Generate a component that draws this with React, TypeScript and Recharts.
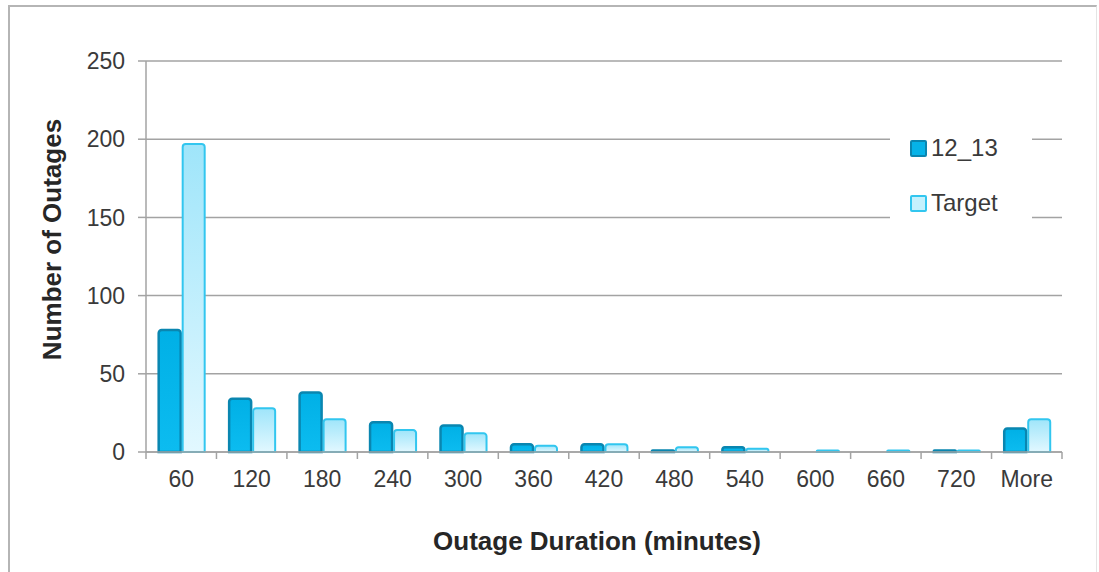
import React from 'react';
import { BarChart, Bar, XAxis, YAxis, CartesianGrid, Legend } from 'recharts';

// Outage duration buckets (minutes)
const categories = ['60', '120', '180', '240', '300', '360', '420', '480', '540', '600', '660', '720', 'More'];
// Number of outages per bucket
const outages1213 = [78, 34, 38, 19, 17, 5, 5, 1, 3, 0, 0, 1, 15];
const outagesTarget = [197, 28, 21, 14, 12, 4, 5, 3, 2, 1, 1, 1, 21];
const yTicks = [0, 50, 100, 150, 200, 250];

const data = categories.map((c, i) => ({
  bucket: c,
  s1213: outages1213[i],
  target: outagesTarget[i],
}));

const FONT = "Arial, 'Liberation Sans', sans-serif";
const AXIS_GRAY = '#a3a3a3';
const TEXT = '#3a3a3a';
const X_TICK_SIZE = 6;
const X_TICK_MARGIN = 13;

const DARK_FILL = '#06b3e8';
const DARK_STROKE = '#0a86b0';
const LIGHT_STROKE = '#32c6ef';

// Category label plus boundary tick marks between categories
const BucketTick = (props: any) => {
  const { x, y, payload, index, visibleTicksCount, width } = props;
  const half =
    payload && typeof payload.offset === 'number' && payload.offset > 0
      ? payload.offset
      : width / visibleTicksCount / 2;
  const axisY = y - X_TICK_SIZE - X_TICK_MARGIN;
  const isLast = index === visibleTicksCount - 1;
  return (
    <g>
      <line x1={x - half} x2={x - half} y1={axisY} y2={axisY + 7} stroke={AXIS_GRAY} strokeWidth={1.5} />
      {isLast && (
        <line x1={x + half} x2={x + half} y1={axisY} y2={axisY + 7} stroke={AXIS_GRAY} strokeWidth={1.5} />
      )}
      <text x={x} y={y} dy="0.71em" textAnchor="middle" fill={TEXT} fontSize={23} fontFamily={FONT}>
        {payload.value}
      </text>
    </g>
  );
};

const LegendBox = () => {
  const items = [
    { name: '12_13', fill: DARK_FILL, stroke: DARK_STROKE },
    { name: 'Target', fill: '#c4f1fd', stroke: LIGHT_STROKE },
  ];
  return (
    <div style={{ position: 'relative', width: '100%', height: '100%', background: '#fff' }}>
      {items.map((it, i) => (
        <div
          key={it.name}
          style={{
            position: 'absolute',
            left: 20,
            top: 14 + i * 55,
            height: 28,
            display: 'flex',
            alignItems: 'center',
            fontFamily: FONT,
            fontSize: 24,
            color: TEXT,
            whiteSpace: 'nowrap',
          }}
        >
          <span
            style={{
              display: 'inline-block',
              width: 13,
              height: 13,
              background: it.fill,
              border: `2px solid ${it.stroke}`,
              borderRadius: 2,
              marginRight: 4,
            }}
          />
          {it.name}
        </div>
      ))}
    </div>
  );
};

export default function App() {
  return (
    <div style={{ position: 'absolute', left: 0, top: 0, width: 1099, height: 572, overflow: 'hidden', background: '#fff' }}>
      <div
        style={{
          position: 'absolute',
          left: 8,
          top: 5,
          width: 1086,
          height: 600,
          borderTop: '2px solid #b5b5b5',
          borderLeft: '2px solid #b5b5b5',
          borderRight: '1px solid #e4e4e4',
        }}
      />
      <div style={{ position: 'absolute', left: 0, top: 0 }}>
        <BarChart
          width={1099}
          height={572}
          data={data}
          margin={{ top: 61, right: 37, bottom: 60, left: 46 }}
          barCategoryGap="18%"
          barGap={2}
        >
          <defs>
            <linearGradient id="targetFill" x1="0" y1="0" x2="0" y2="1">
              <stop offset="0%" stopColor="#9fe5fa" />
              <stop offset="100%" stopColor="#e2f8ff" />
            </linearGradient>
            <linearGradient id="darkFill" x1="0" y1="0" x2="0" y2="1">
              <stop offset="0%" stopColor="#00b0e6" />
              <stop offset="100%" stopColor="#0cbcf0" />
            </linearGradient>
          </defs>
          <CartesianGrid vertical={false} stroke={AXIS_GRAY} strokeWidth={1.5} />
          <XAxis
            dataKey="bucket"
            height={60}
            axisLine={{ stroke: AXIS_GRAY, strokeWidth: 1.5 }}
            tickLine={false}
            tickSize={X_TICK_SIZE}
            tickMargin={X_TICK_MARGIN}
            interval={0}
            tick={<BucketTick />}
            label={{
              content: (p: any) => {
                const vb = p.viewBox;
                return (
                  <text
                    x={vb.x + vb.width / 2 - 7}
                    y={vb.y + 98}
                    textAnchor="middle"
                    fontFamily={FONT}
                    fontSize={26}
                    fontWeight="bold"
                    fill="#262626"
                  >
                    Outage Duration (minutes)
                  </text>
                );
              },
            }}
          />
          <YAxis
            width={100}
            domain={[0, 250]}
            ticks={yTicks}
            interval={0}
            axisLine={{ stroke: AXIS_GRAY, strokeWidth: 1.5 }}
            tickLine={{ stroke: AXIS_GRAY, strokeWidth: 1.5 }}
            tickSize={8}
            tickMargin={13}
            tick={{ fill: TEXT, fontSize: 23, fontFamily: FONT }}
            label={{
              content: (p: any) => {
                const vb = p.viewBox;
                const cx = vb.x + 6;
                const cy = vb.y + vb.height / 2 - 17;
                return (
                  <text
                    x={cx}
                    y={cy}
                    transform={`rotate(-90 ${cx} ${cy})`}
                    textAnchor="middle"
                    dominantBaseline="central"
                    fontFamily={FONT}
                    fontSize={26}
                    fontWeight="bold"
                    fill="#262626"
                  >
                    Number of Outages
                  </text>
                );
              },
            }}
          />
          <Legend
            layout="horizontal"
            verticalAlign="middle"
            align="center"
            content={<LegendBox />}
            wrapperStyle={{ left: 890, top: 120, width: 142, height: 110 }}
          />
          <Bar
            dataKey="s1213"
            name="12_13"
            fill="url(#darkFill)"
            stroke={DARK_STROKE}
            strokeWidth={2.5}
            radius={[3, 3, 0, 0]}
            isAnimationActive={false}
          />
          <Bar
            dataKey="target"
            name="Target"
            fill="url(#targetFill)"
            stroke={LIGHT_STROKE}
            strokeWidth={2}
            radius={[3, 3, 0, 0]}
            isAnimationActive={false}
          />
        </BarChart>
      </div>
    </div>
  );
}
